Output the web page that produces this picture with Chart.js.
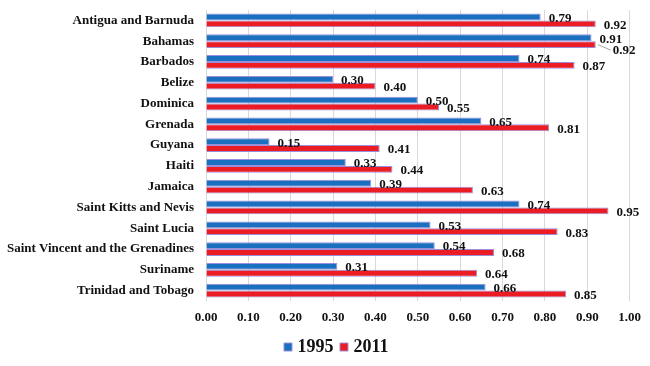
<!DOCTYPE html>
<html>
<head>
<meta charset="utf-8">
<script src="https://cdn.jsdelivr.net/npm/chart.js@4/dist/chart.umd.min.js"></script>
<style>
html,body{margin:0;padding:0;background:#fff;}
#wrap{width:650px;height:366px;position:relative;}
</style>
</head>
<body>
<div id="wrap"><canvas id="c" width="650" height="366"></canvas></div>
<script>
const categories = ["Antigua and Barnuda","Bahamas","Barbados","Belize","Dominica","Grenada","Guyana","Haiti","Jamaica","Saint Kitts and Nevis","Saint Lucia","Saint Vincent and the Grenadines","Suriname","Trinidad and Tobago"];
const values1995 = [0.79,0.91,0.74,0.30,0.50,0.65,0.15,0.33,0.39,0.74,0.53,0.54,0.31,0.66];
const values2011 = [0.92,0.92,0.87,0.40,0.55,0.81,0.41,0.44,0.63,0.95,0.83,0.68,0.64,0.85];
const seriesNames = ["1995","2011"];

const FONT = "'Liberation Serif','Times New Roman',serif";

const labelPlugin = {
  id: 'valueLabels',
  afterDatasetsDraw(chart) {
    const ctx = chart.ctx;
    ctx.save();
    ctx.font = "bold 13px " + FONT;
    ctx.fillStyle = '#111';
    ctx.textAlign = 'left';
    ctx.textBaseline = 'middle';
    const m0 = chart.getDatasetMeta(0), m1 = chart.getDatasetMeta(1);
    const d0 = chart.data.datasets[0].data, d1 = chart.data.datasets[1].data;
    for (let i = 0; i < d0.length; i++) {
      const b = m0.data[i], r = m1.data[i];
      const t0 = d0[i].toFixed(2), t1 = d1[i].toFixed(2);
      const bx = b.x + 8, by = b.y + 1.5;
      ctx.fillText(t0, bx, by);
      const w0 = ctx.measureText(t0).width;
      let rx = r.x + 8, ry = r.y + 1.5;
      if (rx < bx + w0 - 10) {
        const nx = rx + 9, ny = ry + 5;
        ctx.save();
        ctx.strokeStyle = '#a6a6a6';
        ctx.lineWidth = 1;
        ctx.beginPath();
        ctx.moveTo(r.x + 2, r.y);
        ctx.lineTo(nx - 2, ny - 1);
        ctx.stroke();
        ctx.restore();
        rx = nx; ry = ny;
      }
      ctx.fillText(t1, rx, ry);
    }
    ctx.restore();
  }
};

const legendShift = {
  id: 'legendShift',
  afterUpdate(chart) {
    if (chart.legend) { chart.legend.left += 21; chart.legend.right += 21; }
  }
};

new Chart(document.getElementById('c'), {
  type: 'bar',
  data: {
    labels: categories,
    datasets: [
      { label: seriesNames[0], data: values1995, backgroundColor: '#1b6fc0', borderColor: '#9a8fd8', borderWidth: 1, categoryPercentage: 0.66, barPercentage: 1 },
      { label: seriesNames[1], data: values2011, backgroundColor: '#ec1c24', borderColor: '#9a8fd8', borderWidth: 1, categoryPercentage: 0.66, barPercentage: 1 }
    ]
  },
  options: {
    indexAxis: 'y',
    responsive: false,
    animation: false,
    devicePixelRatio: 1,
    layout: { padding: { top: 10, right: 16, left: 0, bottom: 0 } },
    scales: {
      x: {
        min: 0, max: 1,
        ticks: { stepSize: 0.1, padding: 9, color: '#111', font: { family: FONT, size: 13, weight: 'bold' }, callback: v => Number(v).toFixed(2), maxRotation: 0 },
        grid: { color: '#d9d9d9', drawTicks: false },
        border: { display: false },
        afterFit(s) { s.height = 27; }
      },
      y: {
        ticks: { padding: 12, color: '#111', font: { family: FONT, size: 13, weight: 'bold' }, autoSkip: false },
        grid: { display: false, drawTicks: false },
        border: { display: false },
        afterFit(s) { s.width = 206; s.paddingTop = 0; s.paddingBottom = 0; }
      }
    },
    plugins: {
      legend: {
        position: 'bottom',
        labels: { usePointStyle: true, pointStyle: 'rect', boxWidth: 1, boxHeight: 8, padding: 10, color: '#111', font: { family: FONT, size: 18, weight: 'bold' } }
      },
      tooltip: { enabled: false }
    }
  },
  plugins: [labelPlugin, legendShift]
});
</script>
</body>
</html>
